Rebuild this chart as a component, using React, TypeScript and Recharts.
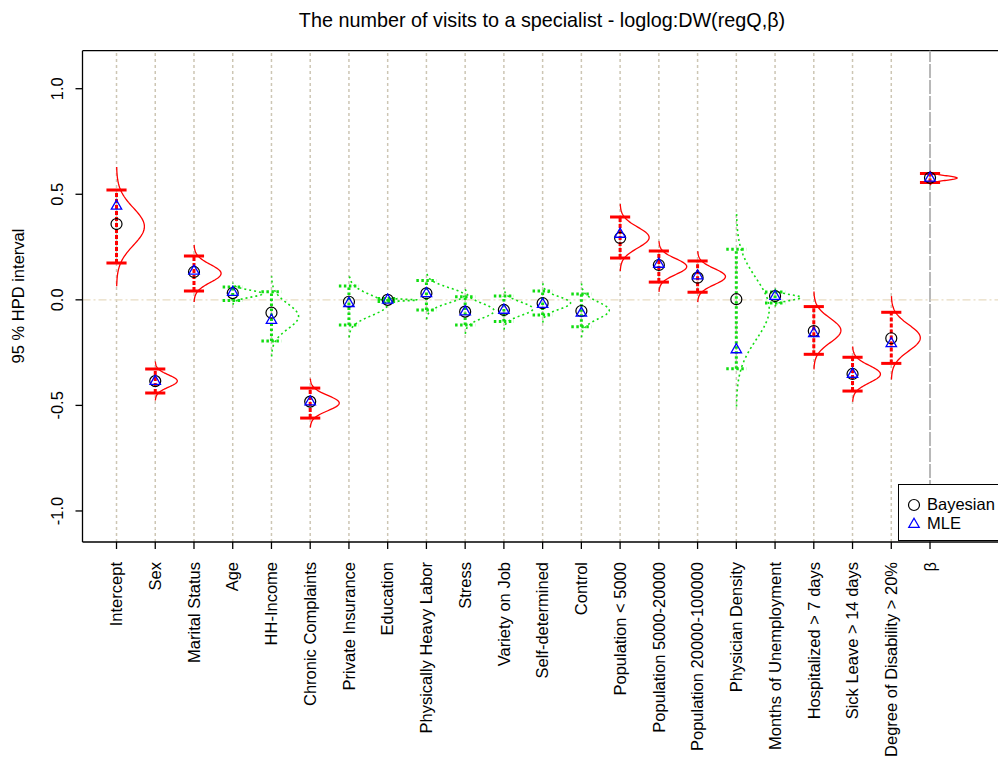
import { ComposedChart, Line, Scatter, XAxis, YAxis, ReferenceLine } from 'recharts';

const categories = [
  'Intercept', 'Sex', 'Marital Status', 'Age', 'HH-Income', 'Chronic Complaints',
  'Private Insurance', 'Education', 'Physically Heavy Labor', 'Stress', 'Variety on Job',
  'Self-determined', 'Control', 'Population < 5000', 'Population 5000-20000',
  'Population 20000-100000', 'Physician Density', 'Months of Unemployment',
  'Hospitalized > 7 days', 'Sick Leave > 14 days', 'Degree of Disability > 20%', 'β',
];
const bayesian = [0.359, -0.385, 0.132, 0.032, -0.061, -0.482, -0.009, 0.0, 0.031, -0.056, -0.048, -0.016, -0.053, 0.293, 0.165, 0.105, 0.003, 0.018, -0.148, -0.351, -0.182, 0.578];
const mle = [0.445, -0.385, 0.137, 0.037, -0.096, -0.482, -0.016, 0.0, 0.031, -0.056, -0.048, -0.02, -0.062, 0.312, 0.17, 0.115, -0.235, 0.018, -0.158, -0.351, -0.206, 0.578];
const hpdLower = [0.174, -0.441, 0.042, -0.003, -0.195, -0.56, -0.119, -0.008, -0.048, -0.119, -0.103, -0.072, -0.128, 0.198, 0.084, 0.036, -0.326, -0.015, -0.258, -0.432, -0.301, 0.556];
const hpdUpper = [0.52, -0.328, 0.208, 0.061, 0.038, -0.418, 0.066, 0.006, 0.091, 0.015, 0.018, 0.042, 0.028, 0.392, 0.231, 0.184, 0.239, 0.037, -0.032, -0.272, -0.059, 0.598];
// posterior density peak height, in category widths
const densityHeight = [0.72, 0.57, 0.7, 0.77, 0.7, 0.75, 0.98, 0.77, 0.98, 0.75, 0.75, 0.72, 0.72, 0.75, 0.72, 0.72, 0.85, 0.67, 0.7, 0.72, 0.75, 0.7];
const yTicks = [-1, -0.5, 0, 0.5, 1];

const X_DOMAIN = [0.122, 23.755];
const Y_DOMAIN = [-1.147, 1.18];
const CAP = 0.26;
const RED = '#ff0000';
const GREEN = '#11dd11';
const FONT = '"Liberation Sans", Arial, sans-serif';

const positions = categories.map((_, i) => i + 1);
const isSignificant = (i: number) => hpdLower[i] > 0 || hpdUpper[i] < 0;

const densityCurve = (i: number) => {
  const mid = (hpdLower[i] + hpdUpper[i]) / 2;
  const sd = (hpdUpper[i] - hpdLower[i]) / 3.92;
  const pts = [];
  for (let k = -32; k <= 32; k++) {
    const z = k / 10;
    pts.push({ x: positions[i] + densityHeight[i] * Math.exp(-0.5 * z * z), y: mid + z * sd });
  }
  return pts;
};

const bayesData = positions.map((x, i) => ({ x, y: bayesian[i] }));
const mleData = positions.map((x, i) => ({ x, y: mle[i] }));

const Circle = (props: any) => {
  const { cx, cy } = props;
  if (cx == null || cy == null) return null;
  return <circle cx={cx} cy={cy} r={5.5} fill="none" stroke="#000" strokeWidth={1.2} />;
};

const Triangle = (props: any) => {
  const { cx, cy } = props;
  if (cx == null || cy == null) return null;
  return (
    <polygon
      points={`${cx},${cy - 5.8} ${cx - 5.2},${cy + 3.3} ${cx + 5.2},${cy + 3.3}`}
      fill="none"
      stroke="#0000ff"
      strokeWidth={1.3}
    />
  );
};

const XTick = (props: any) => {
  const { x, y, payload } = props;
  const label = categories[payload.value - 1];
  const ty = y + 11;
  return (
    <text
      x={x}
      y={ty}
      transform={`rotate(-90, ${x}, ${ty})`}
      textAnchor="end"
      dy="0.35em"
      fontSize={16.5}
      fontFamily={FONT}
      fill="#000"
    >
      {label}
    </text>
  );
};

const YTick = (props: any) => {
  const { x, y, payload } = props;
  const tx = x - 10.5;
  return (
    <text
      x={tx}
      y={y}
      transform={`rotate(-90, ${tx}, ${y})`}
      textAnchor="middle"
      fontSize={16.5}
      fontFamily={FONT}
      fill="#000"
    >
      {payload.value.toFixed(1)}
    </text>
  );
};

export default function App() {
  return (
    <div style={{ position: 'absolute', left: 0, top: 0, width: 998, height: 757, background: '#fff' }}>
      <ComposedChart width={998} height={757} margin={{ top: 50.7, right: 0, left: 0, bottom: 0 }}>
        <XAxis
          type="number"
          dataKey="x"
          domain={X_DOMAIN}
          ticks={positions}
          allowDataOverflow
          height={215}
          tickSize={7}
          tick={<XTick />}
          axisLine={{ stroke: '#000', strokeWidth: 1.3 }}
          tickLine={{ stroke: '#000', strokeWidth: 1.3 }}
          interval={0}
        />
        <YAxis
          type="number"
          dataKey="y"
          domain={Y_DOMAIN}
          ticks={yTicks}
          allowDataOverflow
          width={82.5}
          tickSize={7}
          tick={<YTick />}
          axisLine={{ stroke: '#000', strokeWidth: 1.3 }}
          tickLine={{ stroke: '#000', strokeWidth: 1.3 }}
          label={{
            content: () => (
              <text x={24} y={296} transform="rotate(-90, 24, 296)" textAnchor="middle" fontSize={16.5} fontFamily={FONT} fill="#000">
                95 % HPD interval
              </text>
            ),
          }}
        />
        <ReferenceLine y={Y_DOMAIN[1]} stroke="#000" strokeWidth={1.3} />
        {positions.map((p, i) =>
          i === positions.length - 1 ? (
            <ReferenceLine key={`g${i}`} x={p} stroke="#b8b8b8" strokeWidth={2} strokeDasharray="14 2" />
          ) : (
            <ReferenceLine key={`g${i}`} x={p} stroke="#cdc6b4" strokeWidth={1.5} strokeDasharray="3 3" />
          )
        )}
        <ReferenceLine y={0} stroke="#e8dcc2" strokeWidth={1.2} strokeDasharray="8 3 2 3" />
        {positions.map((p, i) => (
          <Line
            key={`d${i}`}
            data={densityCurve(i)}
            dataKey="y"
            stroke={isSignificant(i) ? RED : GREEN}
            strokeWidth={isSignificant(i) ? 1.3 : 1.6}
            strokeDasharray={isSignificant(i) ? undefined : '2 3'}
            dot={false}
            activeDot={false}
            legendType="none"
            isAnimationActive={false}
          />
        ))}
        {positions.map((p, i) => (
          <Line
            key={`v${i}`}
            data={[{ x: p, y: hpdLower[i] }, { x: p, y: hpdUpper[i] }]}
            dataKey="y"
            stroke={isSignificant(i) ? RED : GREEN}
            strokeWidth={3}
            strokeDasharray={isSignificant(i) ? '4 2' : '2.5 2.5'}
            dot={false}
            activeDot={false}
            legendType="none"
            isAnimationActive={false}
          />
        ))}
        {positions.map((p, i) => (
          <Line
            key={`lc${i}`}
            data={[{ x: p - CAP, y: hpdLower[i] }, { x: p + CAP, y: hpdLower[i] }]}
            dataKey="y"
            stroke={isSignificant(i) ? RED : GREEN}
            strokeWidth={3}
            strokeDasharray={isSignificant(i) ? undefined : '2.5 2.5'}
            dot={false}
            activeDot={false}
            legendType="none"
            isAnimationActive={false}
          />
        ))}
        {positions.map((p, i) => (
          <Line
            key={`uc${i}`}
            data={[{ x: p - CAP, y: hpdUpper[i] }, { x: p + CAP, y: hpdUpper[i] }]}
            dataKey="y"
            stroke={isSignificant(i) ? RED : GREEN}
            strokeWidth={3}
            strokeDasharray={isSignificant(i) ? undefined : '2.5 2.5'}
            dot={false}
            activeDot={false}
            legendType="none"
            isAnimationActive={false}
          />
        ))}
        <Scatter data={bayesData} dataKey="y" shape={<Circle />} isAnimationActive={false} legendType="none" />
        <Scatter data={mleData} dataKey="y" shape={<Triangle />} isAnimationActive={false} legendType="none" />
      </ComposedChart>
      <div
        style={{
          position: 'absolute',
          left: 542,
          top: 9,
          transform: 'translateX(-50%)',
          whiteSpace: 'nowrap',
          fontFamily: FONT,
          fontSize: 19.8,
          lineHeight: '22px',
        }}
      >
        The number of visits to a specialist - loglog:DW(regQ,β)
      </div>
      <div
        style={{
          position: 'absolute',
          left: 898,
          top: 484,
          width: 120,
          height: 57,
          border: '1px solid #000',
          background: '#fff',
          fontFamily: FONT,
          fontSize: 16.5,
          boxSizing: 'border-box',
        }}
      >
        <svg width={30} height={57} style={{ position: 'absolute', left: 0, top: 0 }}>
          <circle cx={15} cy={20} r={5.5} fill="none" stroke="#000" strokeWidth={1.2} />
          <polygon points="15,33.2 9.8,42.3 20.2,42.3" fill="none" stroke="#0000ff" strokeWidth={1.3} />
        </svg>
        <div style={{ position: 'absolute', left: 28, top: 10, lineHeight: '19px' }}>
          Bayesian
          <br />
          MLE
        </div>
      </div>
    </div>
  );
}
